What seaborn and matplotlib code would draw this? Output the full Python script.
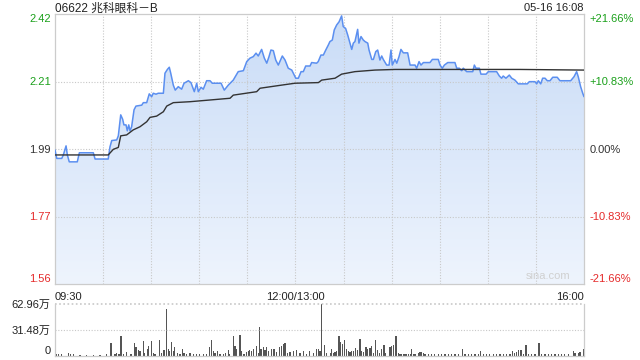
import numpy as np
import pandas as pd
import matplotlib
matplotlib.use("Agg")
import matplotlib.pyplot as plt
import seaborn as sns

# data: minutes since 09:30 (lunch break removed), price in HKD
price_min = [0, 1.1, 4.2, 5.2, 6.9, 7.7, 8.9, 13.9, 15.2, 23.9, 25.0, 33.2, 34.3, 35.4, 38.5, 39.5,
             41.0, 42.2, 43.0, 44.3, 45.1, 46.0, 46.8, 47.8, 49.3, 50.5, 54.1, 55.1, 57.2, 58.8,
             60.3, 61.3, 63.0, 64.4, 67.6, 68.6, 70.1, 71.3, 72.2, 73.8, 75.0, 76.9, 79.0, 80.5,
             83.2, 84.8, 86.9, 88.4, 89.4, 91.1, 92.5, 94.6, 96.7, 98.1, 103.6, 105.6, 108.1,
             111.2, 114.3, 117.5, 119.6, 121.6, 123.7, 125.4, 126.8, 128.9, 130.6, 132.1, 133.5,
             134.7, 136.2, 137.7, 139.3, 141.8, 143.5, 145.5, 147.7, 150.2, 151.8, 153.5, 154.9,
             156.4, 159.1, 160.1, 163.2, 164.2, 165.9, 167.4, 168.9, 170.5, 171.5, 173.0, 174.2,
             175.7, 177.2, 178.8, 179.8, 181.3, 182.6, 184.0, 185.1, 186.1, 187.1, 188.8, 189.6,
             190.9, 192.3, 193.4, 195.1, 195.9, 197.6, 198.6, 200.1, 201.3, 202.7, 203.8, 204.8,
             206.9, 208.4, 209.6, 210.4, 212.1, 213.2, 214.6, 215.8, 217.3, 220.0, 221.5, 224.6,
             225.6, 227.1, 228.3, 229.8, 233.9, 235.4, 239.1, 240.2, 241.6, 242.9, 245.0, 249.5,
             250.6, 252.2, 253.7, 254.7, 256.8, 260.6, 261.6, 262.6, 264.7, 265.7, 268.9, 270.3,
             275.5, 277.2, 278.6, 279.6, 281.3, 283.4, 284.9, 286.9, 289.0, 294.6, 295.9, 299.4,
             300.5, 301.5, 303.0, 304.2, 305.7, 307.1, 308.8, 310.5, 313.3, 315.0, 321.7, 323.8,
             325.4, 326.4, 327.9, 329.2, 330.0]
price_val = [1.987, 1.960, 1.960, 1.971, 2.000, 1.971, 1.949, 1.949, 1.978, 1.978, 1.958, 1.958,
             1.997, 2.017, 2.019, 2.032, 2.099, 2.085, 2.067, 2.067, 2.048, 2.067, 2.048, 2.061,
             2.115, 2.127, 2.130, 2.138, 2.138, 2.166, 2.157, 2.168, 2.165, 2.168, 2.168, 2.232,
             2.244, 2.251, 2.232, 2.194, 2.178, 2.189, 2.181, 2.200, 2.208, 2.202, 2.173, 2.200,
             2.173, 2.187, 2.181, 2.208, 2.208, 2.200, 2.200, 2.178, 2.194, 2.210, 2.237, 2.240,
             2.269, 2.280, 2.285, 2.296, 2.287, 2.308, 2.280, 2.264, 2.285, 2.306, 2.304, 2.274,
             2.258, 2.287, 2.274, 2.248, 2.242, 2.216, 2.216, 2.237, 2.237, 2.255, 2.255, 2.266,
             2.264, 2.269, 2.290, 2.290, 2.306, 2.322, 2.333, 2.338, 2.370, 2.386, 2.396, 2.415,
             2.381, 2.375, 2.354, 2.328, 2.308, 2.328, 2.333, 2.372, 2.328, 2.349, 2.338, 2.333,
             2.328, 2.306, 2.276, 2.276, 2.301, 2.306, 2.274, 2.287, 2.276, 2.258, 2.258, 2.306,
             2.258, 2.276, 2.264, 2.285, 2.308, 2.297, 2.297, 2.258, 2.258, 2.248, 2.269, 2.258,
             2.266, 2.266, 2.276, 2.276, 2.258, 2.248, 2.258, 2.266, 2.266, 2.248, 2.248, 2.240,
             2.248, 2.237, 2.237, 2.258, 2.248, 2.248, 2.229, 2.229, 2.237, 2.237, 2.223, 2.216,
             2.223, 2.216, 2.226, 2.216, 2.210, 2.198, 2.198, 2.205, 2.205, 2.198, 2.208, 2.198,
             2.216, 2.216, 2.208, 2.208, 2.219, 2.219, 2.208, 2.208, 2.221, 2.237, 2.221, 2.189,
             2.168, 2.157]

avg_min = [0, 33.2, 36.4, 39.5, 41.0, 44.7, 48.8, 53.0, 57.2, 59.3, 63.4, 67.6, 69.7, 73.8, 84.2,
           95.6, 109.2, 111.2, 125.8, 127.9, 141.4, 149.7, 164.3, 166.4, 174.7, 178.8, 187.1,
           199.6, 212.1, 249.5, 290.1, 330.0]
avg_val = [1.971, 1.971, 1.989, 1.995, 2.032, 2.035, 2.051, 2.061, 2.077, 2.091, 2.095, 2.109,
           2.127, 2.138, 2.141, 2.146, 2.152, 2.162, 2.173, 2.184, 2.194, 2.200, 2.202, 2.210,
           2.216, 2.229, 2.237, 2.242, 2.244, 2.244, 2.244, 2.242]

# volume in 万 shares
vol_min = [1.0, 2.1, 4.2, 8.3, 9.4, 11.4, 15.6, 19.8, 23.9, 28.1, 32.2, 34.9, 37.4, 38.5, 39.9,
           41.2, 42.6, 44.7, 47.4, 49.5, 50.5, 52.0, 53.0, 55.1, 56.1, 57.8, 58.6, 60.3, 61.3,
           62.4, 65.1, 66.5, 68.0, 69.4, 70.7, 71.7, 72.8, 73.8, 74.8, 76.3, 78.0, 79.6, 80.5,
           82.1, 84.2, 86.3, 88.4, 90.4, 92.5, 94.6, 96.3, 97.5, 98.8, 99.8, 101.2, 102.9, 105.0,
           106.6, 108.1, 109.1, 111.2, 112.3, 113.3, 115.4, 116.4, 117.9, 119.5, 120.6, 121.6,
           122.7, 124.1, 125.8, 126.8, 127.4, 128.5, 130.0, 131.0, 132.0, 133.1, 135.1, 136.6,
           138.3, 140.3, 141.4, 142.4, 143.5, 144.9, 146.6, 148.6, 150.7, 152.8, 154.9, 157.0,
           159.0, 161.1, 163.2, 164.3, 165.3, 166.4, 168.0, 169.5, 171.6, 172.6, 173.6, 174.7,
           175.7, 177.2, 178.2, 179.2, 180.5, 181.9, 183.0, 184.0, 185.1, 186.1, 187.6, 188.8,
           190.3, 191.3, 192.3, 194.0, 195.0, 196.5, 197.5, 198.6, 200.2, 201.3, 202.7, 203.8,
           205.2, 206.3, 209.0, 210.0, 211.1, 212.7, 214.2, 215.2, 216.3, 217.3, 218.3, 219.4,
           220.4, 221.5, 222.5, 223.5, 224.6, 226.6, 227.7, 228.7, 229.8, 230.8, 232.9, 235.0,
           237.0, 239.1, 241.2, 243.3, 245.4, 247.4, 249.5, 251.6, 254.1, 255.8, 257.8, 259.9,
           262.0, 264.1, 265.7, 267.2, 269.3, 271.3, 273.4, 275.5, 277.6, 279.7, 281.7, 283.8,
           285.3, 286.9, 288.0, 289.4, 290.7, 292.1, 293.8, 295.3, 297.3, 299.4, 301.9, 303.6,
           305.7, 307.7, 309.8, 311.9, 314.0, 316.0, 318.1, 320.2, 323.3, 324.4, 326.4, 327.5,
           329.6]
vol_val = [2.9, 2.1, 2.1, 3.4, 2.5, 2.1, 1.7, 1.7, 1.7, 1.7, 2.1, 15.5, 2.9, 4.2, 2.9, 23.9, 2.1,
           5.0, 2.1, 15.5, 11.3, 7.1, 6.3, 17.6, 4.2, 8.4, 12.6, 18.1, 4.2, 2.1, 18.9, 4.2, 7.1,
           56.7, 8.4, 6.3, 16.8, 6.3, 10.5, 4.2, 2.1, 8.4, 4.2, 2.9, 4.2, 2.1, 2.1, 2.1, 2.1, 2.9,
           10.5, 18.9, 6.3, 4.2, 5.5, 2.1, 2.1, 4.2, 7.1, 2.9, 23.9, 12.6, 8.4, 25.2, 6.3, 2.9,
           5.0, 6.3, 7.1, 6.3, 8.4, 12.6, 4.2, 35.7, 8.4, 11.3, 7.1, 10.5, 6.3, 8.4, 8.4, 5.0,
           10.5, 12.6, 14.7, 15.5, 4.2, 5.0, 6.3, 7.1, 4.2, 5.5, 2.9, 5.5, 4.2, 8.4, 8.4, 6.3,
           63.0, 13.9, 4.2, 4.2, 8.4, 4.2, 5.0, 6.3, 23.9, 16.8, 14.7, 19.7, 8.4, 6.3, 5.0, 6.3,
           5.5, 9.7, 7.1, 21.0, 6.3, 5.0, 10.5, 8.4, 9.2, 12.6, 4.2, 19.7, 7.1, 4.2, 8.4, 13.9,
           4.2, 11.3, 12.6, 13.9, 23.9, 4.2, 2.9, 2.1, 2.1, 2.9, 2.1, 2.9, 2.1, 8.4, 2.9, 2.9,
           4.2, 5.0, 5.0, 4.2, 2.1, 2.1, 2.1, 2.9, 2.9, 2.1, 2.1, 2.1, 2.1, 2.1, 2.1, 8.4, 2.9,
           2.1, 2.9, 2.1, 2.9, 6.3, 2.9, 2.9, 2.1, 2.9, 2.9, 2.9, 2.9, 2.9, 2.1, 6.3, 4.2, 5.0,
           7.1, 7.1, 2.1, 13.4, 2.1, 2.1, 2.1, 15.5, 2.1, 2.1, 2.1, 2.1, 2.9, 2.1, 2.1, 2.1, 2.9,
           6.3, 4.2, 4.2, 5.0, 8.4]

prev_close = 1.99
pct_ticks = [0.2166, 0.1083, 0.0, -0.1083, -0.2166]
pct_labels = ["+21.66%", "+10.83%", "0.00%", "-10.83%", "-21.66%"]
vol_ticks = [0, 31.48, 62.96]
vol_labels = ["0", "31.48万", "62.96万"]
time_ticks = [0, 150, 330]
time_labels = ["09:30", "12:00/13:00", "16:00"]
title = "06622 兆科眼科－B"
stamp = "05-16 16:08"

sns.set_theme(style="white")
plt.rcParams["font.family"] = ["Liberation Sans", "Noto Sans CJK SC", "DejaVu Sans"]

GREEN = "#1aa01a"
RED = "#e52a2a"
DARK = "#333333"
GRID = "#c8c8c8"

fig = plt.figure(figsize=(6.4, 3.6), dpi=100)
ax = fig.add_axes([55 / 640, 1 - 284 / 360, 529 / 640, 270 / 360])
axv = fig.add_axes([55 / 640, 1 - 356 / 360, 529 / 640, 52 / 360])

price_df = pd.DataFrame({"t": price_min, "p": price_val})
avg_df = pd.DataFrame({"t": avg_min, "p": avg_val})

lo = prev_close * (1 - 0.2166)
hi = prev_close * (1 + 0.2166)

# gradient fill under the price line
poly = ax.fill_between(price_df["t"], price_df["p"], lo, color="none", lw=0)
grad = np.linspace(0, 1, 256).reshape(-1, 1)
cmap = matplotlib.colors.LinearSegmentedColormap.from_list("fill", ["#c9dcf7", "#eef4fd"])
img = ax.imshow(grad, extent=[0, 330, lo, hi], aspect="auto", cmap=cmap, origin="upper", zorder=1)
img.set_clip_path(poly.get_paths()[0], transform=ax.transData)

sns.lineplot(data=price_df, x="t", y="p", ax=ax, color="#5b8ff0", lw=1.1, zorder=3,
             estimator=None, sort=False)
sns.lineplot(data=avg_df, x="t", y="p", ax=ax, color=DARK, lw=1.0, zorder=4,
             estimator=None, sort=False)

ax.set_xlim(0, 330)
ax.set_ylim(lo, hi)
ax.set_xlabel("")
ax.set_ylabel("")
price_ticks = [prev_close * (1 + p) for p in pct_ticks]
ax.set_yticks(price_ticks)
ax.set_yticklabels(["%.2f" % v for v in price_ticks])
colors = [GREEN, GREEN, DARK, RED, RED]
for lab, c in zip(ax.get_yticklabels(), colors):
    lab.set_color(c)
ax.get_yticklabels()[0].set_va("top")
ax.get_yticklabels()[-1].set_va("bottom")
ax.tick_params(axis="y", length=0, pad=3, labelsize=8)

ax.set_xticks(time_ticks)
ax.set_xticklabels(time_labels)
ax.tick_params(axis="x", length=0, pad=6, labelsize=8, labelcolor="#222222")
xl = ax.get_xticklabels()
xl[0].set_ha("left")
xl[-1].set_ha("right")

for t in range(30, 330, 30):
    ax.axvline(t, color=GRID, lw=0.8, ls=(0, (1, 1.5)), zorder=2)
for v in price_ticks[1:-1]:
    ax.axhline(v, color=GRID, lw=0.8, ls=(0, (1, 1.5)), zorder=2)
for s in ax.spines.values():
    s.set_color("#cccccc")
    s.set_linewidth(0.9)

axr = ax.twinx()
axr.set_ylim(lo, hi)
axr.set_yticks(price_ticks)
axr.set_yticklabels(pct_labels)
for lab, c in zip(axr.get_yticklabels(), colors):
    lab.set_color(c)
axr.get_yticklabels()[0].set_va("top")
axr.get_yticklabels()[-1].set_va("bottom")
axr.tick_params(axis="y", length=0, pad=4, labelsize=8)
for s in axr.spines.values():
    s.set_visible(False)

fig.text(55 / 640, 1 - 12 / 360, title, fontsize=8.5, color="#222222",
         ha="left", va="baseline")
fig.text(584 / 640, 1 - 11 / 360, stamp, fontsize=8, color="#222222",
         ha="right", va="baseline")
ax.text(0.975, 0.012, "sina.com", transform=ax.transAxes, fontsize=8, color="#d0d0d0",
        ha="right", va="bottom", zorder=5)

# volume panel
axv.bar(vol_min, vol_val, width=0.7, color="#555555", lw=0)
axv.set_xlim(0, 330)
axv.set_ylim(0, 62.96)
axv.set_yticks(vol_ticks)
axv.set_yticklabels(vol_labels)
axv.tick_params(axis="y", length=0, pad=3, labelsize=8, labelcolor="#222222")
axv.get_yticklabels()[0].set_va("bottom")
axv.set_xticks([])
axv.axhline(31.48, color=GRID, lw=0.8, ls=(0, (1, 1.5)))
axv.axhline(62.96, color=GRID, lw=1.2, ls=(0, (1, 1.5)), clip_on=False)
axv.spines["top"].set_visible(False)
for k in ["left", "right", "bottom"]:
    axv.spines[k].set_color("#cccccc")
    axv.spines[k].set_linewidth(0.9)

fig.savefig("out.png", dpi=100)
